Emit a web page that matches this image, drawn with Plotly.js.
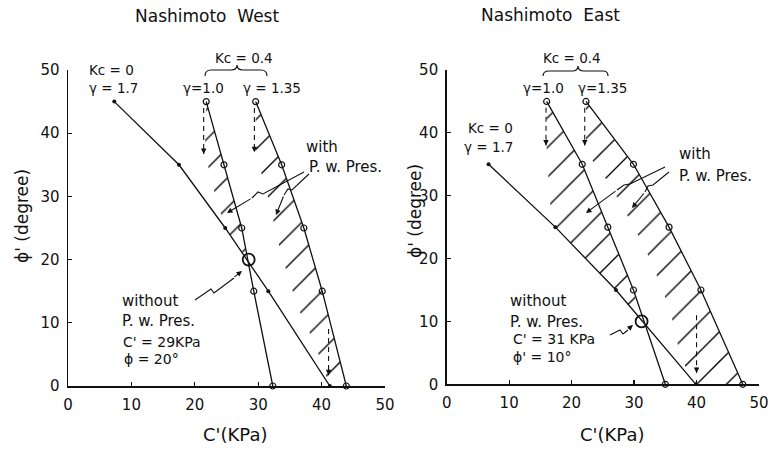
<!DOCTYPE html>
<html>
<head>
<meta charset="utf-8">
<script src="https://cdn.plot.ly/plotly-3.0.1.min.js"></script>
<style>html,body{margin:0;padding:0;background:#fff;}#chart{width:773px;height:449px;}</style>
</head>
<body>
<div id="chart"></div>
<script>
// ---------- data ----------
const xTicks = [0, 10, 20, 30, 40, 50];
const yTicks = [0, 10, 20, 30, 40, 50];
const phiLevels = [45, 35, 25, 15, 0];

// Nashimoto West
const westKc0C  = [7.3, 17.5, 24.8, 31.6, 41.3];
const westG10C  = [21.8, 24.6, 27.4, 29.3, 32.3];
const westG135C = [29.6, 33.7, 37.2, 40.1, 43.9];
const westNoPW  = {c: 28.5, phi: 20};
// hatched band boundaries (with pore water pressure)
const westHatch1C   = [21.6, 23.0, 24.8, 28.4];
const westHatch1Phi = [37, 31, 25, 20];
const westHatch2C   = [29.6, 31.5, 33.6, 36.2, 38.8, 41.3];
const westHatch2Phi = [37, 30, 21, 12.5, 7, 0];

// Nashimoto East
const eastKc0Phi = [35, 25, 15, 0];
const eastKc0C   = [6.7, 17.4, 27.1, 39.9];
const eastG10C   = [16.0, 21.7, 25.8, 29.9, 35.0];
const eastG135C  = [22.3, 29.9, 35.6, 40.7, 47.4];
const eastNoPW   = {c: 31.2, phi: 10};
const eastHatch1C   = [16.0, 16.8, 22.2, 27.1, 31.2];
const eastHatch1Phi = [37, 25.5, 20, 15, 10];
const eastHatch2C   = [22.3, 26.0, 30.0, 32.5, 34.6, 36.2, 37.5, 40.0];
const eastHatch2Phi = [37, 32, 25, 20, 15, 10, 4, 0];

// ---------- helpers ----------
const W = 773, H = 449;
const PX = x => x / W;
const PY = y => (H - y) / H;
function pathPx(cmds) {
  return cmds.map(c => {
    const L = c[0]; const nums = c.slice(1);
    const out = [];
    for (let i = 0; i < nums.length; i += 2) out.push(PX(nums[i]).toFixed(5) + ',' + PY(nums[i + 1]).toFixed(5));
    return L + out.join(' ');
  }).join(' ');
}
function band(lineC, linePhi, bC, bPhi, minPhi, xa, ya) {
  const xs = [], ys = [];
  for (let i = 0; i < lineC.length; i++) if (linePhi[i] > minPhi) { xs.push(lineC[i]); ys.push(linePhi[i]); }
  for (let i = bC.length - 1; i >= 0; i--) { xs.push(bC[i]); ys.push(bPhi[i]); }
  return {
    x: xs, y: ys, xaxis: xa, yaxis: ya, type: 'scatter', mode: 'lines',
    fill: 'toself', fillcolor: 'rgba(0,0,0,0)', line: {width: 0, color: 'rgba(0,0,0,0)'},
    fillpattern: {shape: '/', size: 21, solidity: 0.065, fgcolor: '#000', bgcolor: 'rgba(0,0,0,0)'},
    hoverinfo: 'skip', showlegend: false, cliponaxis: false
  };
}
const lineStyle = {color: '#111', width: 1.3};
function curve(c, phi, open, xa, ya) {
  return {
    x: c, y: phi, xaxis: xa, yaxis: ya, type: 'scatter', mode: 'lines+markers',
    line: lineStyle, cliponaxis: false, showlegend: false,
    marker: open ? {symbol: 'circle-open', size: 6, color: '#111', line: {width: 1.2, color: '#111'}}
                 : {symbol: 'circle', size: 4, color: '#111'}
  };
}
function bigCircle(p, xa, ya) {
  return {x: [p.c], y: [p.phi], xaxis: xa, yaxis: ya, type: 'scatter', mode: 'markers',
    marker: {symbol: 'circle-open', size: 12, color: '#111', line: {width: 1.8, color: '#111'}},
    cliponaxis: false, showlegend: false};
}

const data = [
  band(westG10C, phiLevels, westHatch1C, westHatch1Phi, 20, 'x', 'y'),
  band(westG135C, phiLevels, westHatch2C, westHatch2Phi, -1, 'x', 'y'),
  curve(westKc0C, phiLevels, false, 'x', 'y'),
  curve(westG10C, phiLevels, true, 'x', 'y'),
  curve(westG135C, phiLevels, true, 'x', 'y'),
  bigCircle(westNoPW, 'x', 'y'),
  band(eastG10C, phiLevels, eastHatch1C, eastHatch1Phi, 10, 'x2', 'y2'),
  band(eastG135C, phiLevels, eastHatch2C, eastHatch2Phi, -1, 'x2', 'y2'),
  curve(eastKc0C, eastKc0Phi, false, 'x2', 'y2'),
  curve(eastG10C, phiLevels, true, 'x2', 'y2'),
  curve(eastG135C, phiLevels, true, 'x2', 'y2'),
  bigCircle(eastNoPW, 'x2', 'y2')
];

const FONT = 'DejaVu Sans, Verdana, sans-serif';
function axis(domain, anchor) {
  return {
    domain: domain, anchor: anchor, range: [0, 50], tickvals: xTicks,
    showline: true, linecolor: '#111', linewidth: 1.5, mirror: false,
    ticks: 'inside', ticklen: 4, tickcolor: '#111', tickwidth: 1.2,
    showgrid: false, zeroline: false, fixedrange: true,
    tickfont: {family: FONT, size: 15, color: '#111'}, ticklabelstandoff: 4
  };
}
const yDomW = [PY(386), PY(70)];
const yDomE = [PY(384.3), PY(70)];

function txt(text, x, y, size, xanchor, extra) {
  return Object.assign({text: text, xref: 'paper', yref: 'paper', x: PX(x), y: PY(y),
    xanchor: xanchor || 'center', yanchor: 'middle', showarrow: false,
    font: {family: FONT, size: size, color: '#111'}}, extra || {});
}
function arrowPx(tipX, tipY, tailX, tailY) {
  return {text: '', xref: 'paper', yref: 'paper', x: PX(tipX), y: PY(tipY),
    ax: tailX - tipX, ay: tailY - tipY, axref: 'pixel', ayref: 'pixel',
    showarrow: true, arrowhead: 2, arrowsize: 1, arrowwidth: 1.1, arrowcolor: '#111'};
}
function dashArrowData(xa, ya, c, phiTop, phiBot) {
  return {text: '', xref: xa, yref: ya, x: c, y: phiBot, ax: 0, ay: -7,
    axref: 'pixel', ayref: 'pixel', showarrow: true, arrowhead: 2, arrowsize: 1,
    arrowwidth: 1.1, arrowcolor: '#111'};
}
function dashLine(xa, ya, c, phiTop, phiBot) {
  return {type: 'line', xref: xa, yref: ya, x0: c, x1: c, y0: phiTop, y1: phiBot,
    line: {color: '#111', width: 1.1, dash: '5px,4px'}};
}

const annotations = [
  txt('Nashimoto  West', 207, 16, 17),
  txt('Nashimoto  East', 550, 15, 17),
  txt("C'(KPa)", 235, 434, 18),
  txt("C'(KPa)", 612, 434, 18),
  txt("ϕ' (degree)", 22, 216, 17, 'center', {textangle: -90}),
  txt("ϕ' (degree)", 415, 211, 17, 'center', {textangle: -90}),
  // West labels
  txt('Kc = 0', 111, 70, 13.5),
  txt('γ = 1.7', 113, 88, 13.5),
  txt('Kc = 0.4', 244, 58, 13.5),
  txt('γ=1.0', 203, 88, 13.5),
  txt('γ = 1.35', 272, 88, 13.5),
  txt('with', 304, 147, 15, 'left'),
  txt('P. w. Pres.', 307, 167, 15, 'left'),
  txt('without', 120, 301, 15, 'left'),
  txt('P. w. Pres.', 120, 321, 15, 'left'),
  txt("C' = 29KPa", 121, 342, 14, 'left'),
  txt('ϕ = 20°', 122, 359, 14, 'left'),
  // East labels
  txt('Kc = 0.4', 572, 58, 13.5),
  txt('γ=1.0', 543, 88, 13.5),
  txt('γ=1.35', 602, 88, 13.5),
  txt('Kc = 0', 490, 128, 13.5),
  txt('γ = 1.7', 488, 147, 13.5),
  txt('with', 677, 154, 15, 'left'),
  txt('P. w. Pres.', 677, 176, 15, 'left'),
  txt('without', 508, 301, 15, 'left'),
  txt('P. w. Pres.', 508, 322, 15, 'left'),
  txt("C' = 31 KPa", 511, 339, 14, 'left'),
  txt("ϕ' = 10°", 511, 357, 14, 'left'),
  // pointer arrows
  arrowPx(242, 271, 233, 278),
  arrowPx(227, 213, 252, 198),
  arrowPx(276, 215, 284, 195),
  arrowPx(633, 325, 627, 330),
  arrowPx(586, 213, 617, 190),
  arrowPx(632, 208, 645, 192),
  // dashed arrow heads
  dashArrowData('x', 'y', 21.4, 44, 36.7),
  dashArrowData('x', 'y', 29.4, 44, 37),
  dashArrowData('x', 'y', 41.1, 9, 1.7),
  dashArrowData('x2', 'y2', 15.9, 44, 38),
  dashArrowData('x2', 'y2', 22.1, 44, 38),
  dashArrowData('x2', 'y2', 40.0, 11, 1.8)
];

const shapes = [
  {type: 'path', xref: 'paper', yref: 'paper', line: {color: '#111', width: 1.2},
   path: pathPx([['M', 205, 76], ['Q', 205, 70, 211, 70], ['L', 231, 70], ['Q', 237, 70, 237, 65],
                 ['Q', 237, 70, 243, 70], ['L', 261, 70], ['Q', 267, 70, 267, 76]])},
  {type: 'path', xref: 'paper', yref: 'paper', line: {color: '#111', width: 1.2},
   path: pathPx([['M', 543, 76], ['Q', 543, 71, 549, 71], ['L', 572, 71], ['Q', 578, 71, 578, 66],
                 ['Q', 578, 71, 584, 71], ['L', 603, 71], ['Q', 608, 71, 608, 76]])},
  {type: 'path', xref: 'paper', yref: 'paper', line: {color: '#111', width: 1.1},
   path: pathPx([['M', 195, 300], ['L', 211, 289], ['L', 214, 293], ['L', 234, 278]])},
  {type: 'path', xref: 'paper', yref: 'paper', line: {color: '#111', width: 1.1},
   path: pathPx([['M', 304, 172], ['L', 263, 194], ['L', 258, 192], ['L', 252, 198]])},
  {type: 'path', xref: 'paper', yref: 'paper', line: {color: '#111', width: 1.1},
   path: pathPx([['M', 309, 174], ['L', 292, 190], ['L', 288, 189], ['L', 284, 195]])},
  {type: 'path', xref: 'paper', yref: 'paper', line: {color: '#111', width: 1.1},
   path: pathPx([['M', 610, 335], ['L', 620, 330], ['L', 623, 334], ['L', 628, 330]])},
  {type: 'path', xref: 'paper', yref: 'paper', line: {color: '#111', width: 1.1},
   path: pathPx([['M', 665, 167], ['L', 630, 184], ['L', 624, 185], ['L', 617, 190]])},
  {type: 'path', xref: 'paper', yref: 'paper', line: {color: '#111', width: 1.1},
   path: pathPx([['M', 669, 172], ['L', 653, 185], ['L', 648, 186], ['L', 645, 192]])},
  dashLine('x', 'y', 21.4, 44, 36.7),
  dashLine('x', 'y', 29.4, 44, 37),
  dashLine('x', 'y', 41.1, 9, 1.7),
  dashLine('x2', 'y2', 15.9, 44, 38),
  dashLine('x2', 'y2', 22.1, 44, 38),
  dashLine('x2', 'y2', 40.0, 11, 1.8)
];

const layout = {
  width: W, height: H,
  margin: {l: 0, r: 0, t: 0, b: 0},
  paper_bgcolor: '#fff', plot_bgcolor: 'rgba(0,0,0,0)',
  showlegend: false,
  xaxis: axis([PX(68), PX(385)], 'y'),
  yaxis: Object.assign(axis(yDomW, 'x'), {tickvals: yTicks}),
  xaxis2: axis([PX(446.7), PX(759)], 'y2'),
  yaxis2: Object.assign(axis(yDomE, 'x2'), {tickvals: yTicks}),
  annotations: annotations,
  shapes: shapes
};

Plotly.newPlot('chart', data, layout, {staticPlot: true, displayModeBar: false});
</script>
</body>
</html>
